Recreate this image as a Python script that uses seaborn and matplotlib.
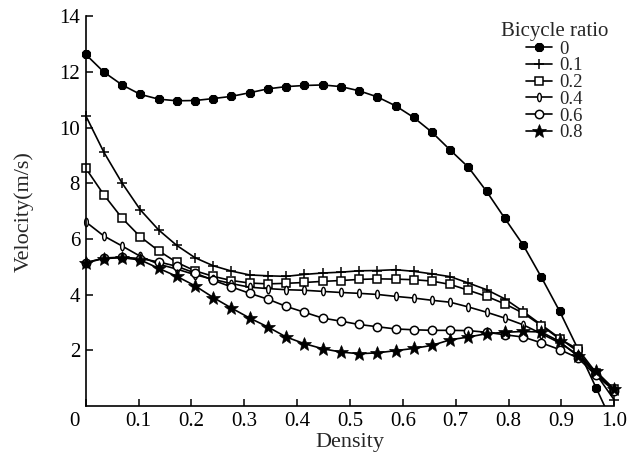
import numpy as np
import pandas as pd
import seaborn as sns
import matplotlib
matplotlib.use("Agg")
from matplotlib import pyplot as plt
from matplotlib.path import Path
from matplotlib.patches import Rectangle
from matplotlib.transforms import ScaledTranslation, Affine2D

# densities of the 30 sample points
density = np.linspace(0.0, 1.0, 30)

ratios = ["0", "0.1", "0.2", "0.4", "0.6", "0.8"]

v_00 = [12.64, 12.00, 11.54, 11.20, 11.03, 10.97, 10.98, 11.05, 11.13, 11.26,
        11.40, 11.48, 11.52, 11.54, 11.48, 11.33, 11.11, 10.79, 10.37, 9.84,
        9.20, 8.58, 7.71, 6.74, 5.79, 4.63, 3.41, 2.06, 0.66, -0.75]
v_01 = [10.44, 9.12, 8.01, 7.05, 6.33, 5.77, 5.33, 5.04, 4.85, 4.71,
        4.68, 4.66, 4.73, 4.78, 4.81, 4.86, 4.87, 4.90, 4.84, 4.75,
        4.65, 4.42, 4.18, 3.85, 3.40, 2.92, 2.44, 1.96, 1.15, 0.22]
v_02 = [8.55, 7.59, 6.75, 6.08, 5.58, 5.16, 4.86, 4.66, 4.51, 4.42,
        4.39, 4.41, 4.44, 4.48, 4.51, 4.55, 4.57, 4.56, 4.54, 4.49,
        4.37, 4.16, 3.94, 3.67, 3.34, 2.89, 2.41, 2.05, 1.20, 0.60]
v_04 = [6.62, 6.11, 5.75, 5.38, 5.10, 4.92, 4.72, 4.55, 4.40, 4.27,
        4.22, 4.18, 4.16, 4.12, 4.08, 4.05, 4.01, 3.94, 3.88, 3.80,
        3.73, 3.56, 3.37, 3.16, 2.92, 2.60, 2.27, 1.85, 1.15, 0.58]
v_06 = [5.15, 5.32, 5.35, 5.30, 5.18, 5.02, 4.78, 4.52, 4.28, 4.05,
        3.84, 3.58, 3.37, 3.16, 3.05, 2.93, 2.85, 2.77, 2.74, 2.72,
        2.72, 2.71, 2.65, 2.56, 2.48, 2.27, 2.03, 1.73, 1.10, 0.55]
v_08 = [5.15, 5.30, 5.33, 5.25, 4.95, 4.66, 4.32, 3.90, 3.52, 3.16,
        2.84, 2.48, 2.24, 2.06, 1.94, 1.88, 1.91, 1.99, 2.07, 2.18,
        2.38, 2.48, 2.60, 2.65, 2.68, 2.66, 2.32, 1.79, 1.25, 0.60]

x_ticks = [0, 0.1, 0.2, 0.3, 0.4, 0.5, 0.6, 0.7, 0.8, 0.9, 1.0]
x_labels = ["0", "0.1", "0.2", "0.3", "0.4", "0.5", "0.6", "0.7", "0.8", "0.9", "1.0"]
y_ticks = [2, 4, 6, 8, 10, 12, 14]

# thin vertical oval marker
oval = Path.unit_circle().transformed(Affine2D().scale(0.45, 1.0))

styles = {
    "0": dict(marker="8", ms=6, mfc="black"),
    "0.1": dict(marker="+", ms=7, mew=1.1),
    "0.2": dict(marker="s", ms=5.3, mfc="white", mew=1.1),
    "0.4": dict(marker=oval, ms=6, mfc="white", mew=1.0),
    "0.6": dict(marker="o", ms=6, mfc="white", mew=1.1),
    "0.8": dict(marker="*", ms=10, mfc="black", mew=0.5),
}

sns.set_style("ticks")
plt.rcParams["font.family"] = ["Liberation Serif", "DejaVu Serif"]

fig = plt.figure(figsize=(6.3, 4.58), dpi=100)
ax = fig.add_axes([0.136, 0.1135, 0.839, 0.8505])

series = [v_00, v_01, v_02, v_04, v_06, v_08]
for name, vals in zip(ratios, series):
    df = pd.DataFrame({"density": density, "velocity": vals})
    sns.lineplot(data=df, x="density", y="velocity", color="black",
                 lw=1.2, mec="black", label=name, ax=ax, clip_on=False,
                 **styles[name])

# the 0 curve runs below zero at the end, so clip it at the x axis
line0 = ax.lines[0]
line0.set_clip_on(True)
line0.set_clip_path(Rectangle((-0.05, 0), 1.1, 1.1, transform=ax.transAxes))

ax.set_xlim(0, 1.0)
ax.set_ylim(0, 14)
ax.set_xticks(x_ticks)
ax.set_xticklabels(x_labels)
ax.set_yticks(y_ticks)
ax.tick_params(direction="in", length=5, width=1.1, labelsize=15, colors="black")
ax.tick_params(axis="x", pad=4)
ax.tick_params(axis="y", pad=4)
sns.despine(ax=ax)
for s in ["left", "bottom"]:
    ax.spines[s].set_linewidth(1.2)
    ax.spines[s].set_color("black")

# shift the corner "0" label to the left
lab0 = ax.get_xticklabels()[0]
lab0.set_transform(lab0.get_transform() + ScaledTranslation(-11 / 100, 0, fig.dpi_scale_trans))

ax.set_xlabel("Density", fontsize=16, labelpad=2)
ax.set_ylabel("Velocity(m/s)", fontsize=16, labelpad=18)

leg = ax.legend(title="Bicycle ratio", loc="upper right", bbox_to_anchor=(1.01, 1.015),
                frameon=False, fontsize=13.5, title_fontsize=15, handlelength=1.4,
                handletextpad=0.4, labelspacing=-0.02, borderaxespad=0.2)

fig.savefig("out.png", dpi=100)
